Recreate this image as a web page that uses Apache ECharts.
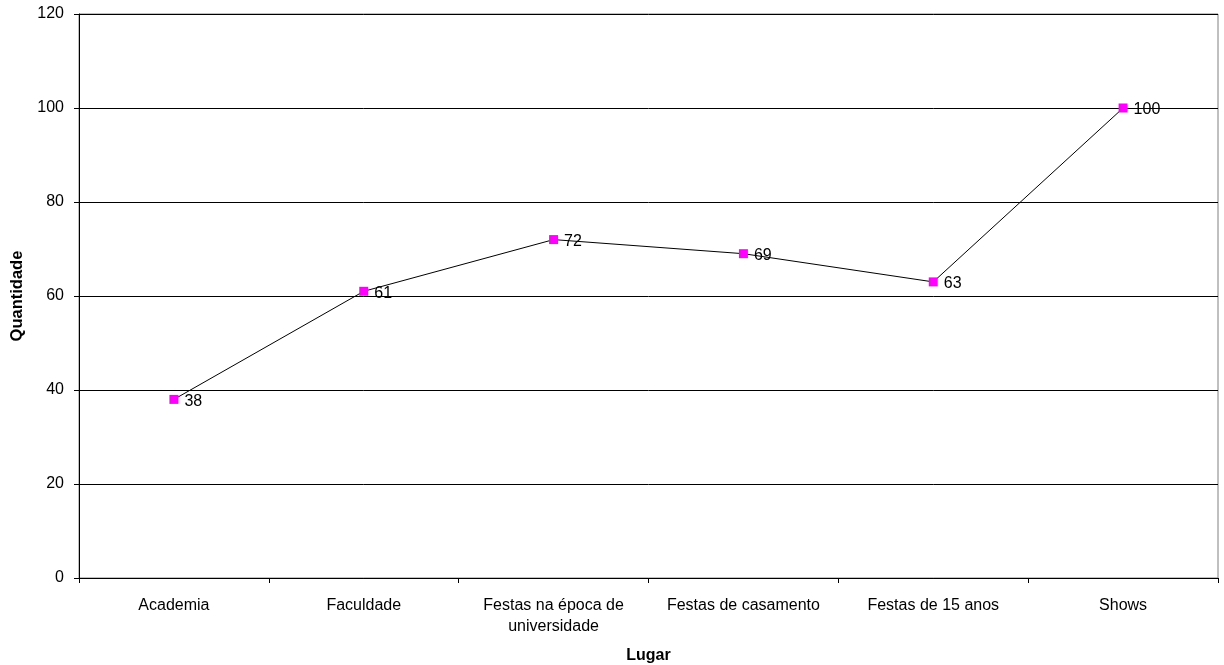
<!DOCTYPE html>
<html>
<head>
<meta charset="utf-8">
<script src="https://cdn.jsdelivr.net/npm/echarts@6/dist/echarts.min.js"></script>
<style>
  html, body { margin: 0; padding: 0; background: #fff; }
  #chart { width: 1224px; height: 665px; }
</style>
</head>
<body>
<div id="chart"></div>
<script>
// Places and how many times each was mentioned
const categories = ['Academia', 'Faculdade', 'Festas na época de\nuniversidade', 'Festas de casamento', 'Festas de 15 anos', 'Shows'];
const quantities = [38, 61, 72, 69, 63, 100];
const yTicks = [0, 20, 40, 60, 80, 100, 120];

const FONT = '"Liberation Sans", Arial, sans-serif';
const chart = echarts.init(document.getElementById('chart'), null, { renderer: 'canvas' });

chart.setOption({
  animation: false,
  backgroundColor: '#ffffff',
  grid: {
    left: 79, right: 6, top: 14, bottom: 87,
    containLabel: false,
    outerBoundsMode: 'none',
    show: true, borderColor: '#808080', borderWidth: 1, backgroundColor: 'transparent'
  },
  xAxis: {
    type: 'category',
    data: categories,
    boundaryGap: true,
    name: 'Lugar',
    nameLocation: 'middle',
    nameGap: 70,
    nameTextStyle: { fontFamily: FONT, fontSize: 16, fontWeight: 'bold', color: '#000' },
    axisLine: { lineStyle: { color: '#000', width: 1 } },
    axisTick: { show: true, length: 5, alignWithLabel: false, lineStyle: { color: '#000' } },
    axisLabel: { fontFamily: FONT, fontSize: 16, color: '#000', margin: 17, lineHeight: 21, interval: 0 },
    splitLine: { show: false }
  },
  yAxis: {
    type: 'value',
    min: yTicks[0],
    max: yTicks[yTicks.length - 1],
    interval: yTicks[1] - yTicks[0],
    name: 'Quantidade',
    nameLocation: 'middle',
    nameGap: 49,
    nameRotate: 90,
    nameTextStyle: { fontFamily: FONT, fontSize: 16.5, fontWeight: 'bold', color: '#000' },
    axisLine: { show: true, lineStyle: { color: '#000', width: 1 } },
    axisTick: { show: true, length: 5, lineStyle: { color: '#000' } },
    axisLabel: { fontFamily: FONT, fontSize: 16, color: '#000', margin: 15 },
    splitLine: { show: true, lineStyle: { color: '#000', width: 1 } }
  },
  series: [{
    type: 'line',
    data: quantities,
    symbol: 'rect',
    symbolSize: 9,
    lineStyle: { color: '#000', width: 1 },
    itemStyle: { color: '#ff00ff', borderWidth: 0 },
    label: {
      show: true,
      position: 'right',
      distance: 6,
      offset: [0, 2],
      fontFamily: FONT,
      fontSize: 16,
      color: '#000'
    },
    z: 3
  }]
});
</script>
</body>
</html>
